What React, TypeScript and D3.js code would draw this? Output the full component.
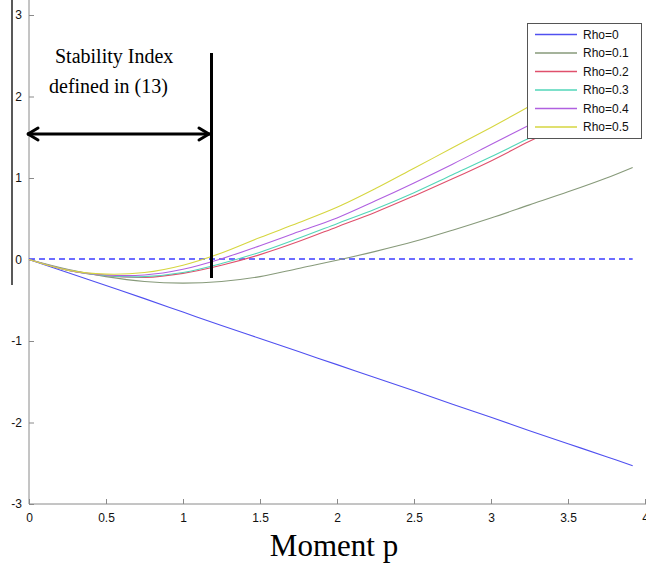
import { useEffect, useRef } from "react";
import * as d3 from "d3";

// moment p samples shared by all curves
const pValues = [0, 0.25, 0.5, 0.75, 1, 1.25, 1.5, 1.75, 2, 2.25, 2.5, 2.75, 3, 3.25, 3.5, 3.75, 3.92];

const rho0 = [0, -0.16, -0.32, -0.48, -0.645, -0.81, -0.97, -1.13, -1.29, -1.45, -1.61, -1.775, -1.935, -2.1, -2.26, -2.42, -2.53];
const rho01 = [0, -0.12, -0.21, -0.27, -0.29, -0.27, -0.21, -0.11, -0.01, 0.1, 0.22, 0.36, 0.51, 0.67, 0.83, 1.0, 1.13];
const rho02 = [0, -0.13, -0.2, -0.22, -0.17, -0.07, 0.06, 0.22, 0.4, 0.58, 0.78, 0.99, 1.21, 1.45, 1.68, 1.92, 2.08];
const rho03 = [0, -0.13, -0.2, -0.21, -0.16, -0.05, 0.09, 0.26, 0.44, 0.62, 0.82, 1.04, 1.26, 1.49, 1.72, 1.96, 2.12];
const rho04 = [0, -0.13, -0.19, -0.19, -0.12, 0.01, 0.17, 0.34, 0.51, 0.72, 0.94, 1.17, 1.41, 1.65, 1.89, 2.14, 2.31];
const rho05 = [0, -0.13, -0.18, -0.16, -0.07, 0.08, 0.27, 0.45, 0.64, 0.87, 1.12, 1.37, 1.62, 1.88, 2.14, 2.41, 2.59];

const seriesNames = ["Rho=0", "Rho=0.1", "Rho=0.2", "Rho=0.3", "Rho=0.4", "Rho=0.5"];
const seriesValues = [rho0, rho01, rho02, rho03, rho04, rho05];
const seriesColors = ["#5050f0", "#879a7a", "#e0506c", "#52d6b8", "#b060e0", "#d6d640"];

const xTicks = [0, 0.5, 1, 1.5, 2, 2.5, 3, 3.5, 4];
const yTicks = [-3, -2, -1, 0, 1, 2, 3];

const App = () => {
  const ref = useRef<SVGSVGElement | null>(null);

  useEffect(() => {
    const svg = d3.select(ref.current);
    svg.selectAll("*").remove();

    const x = d3.scaleLinear().domain([0, 4]).range([29, 645]);
    const y = d3.scaleLinear().domain([-3, 3]).range([504, 15]);
    const axisColor = "#8a8a8a";
    const sans = "'Liberation Sans', Arial, sans-serif";
    const serif = "'Liberation Serif', 'Times New Roman', serif";

    svg.append("rect").attr("width", 646).attr("height", 565).attr("fill", "white");

    // stray black rule on the far left
    svg.append("line")
      .attr("x1", 12).attr("x2", 12).attr("y1", 0).attr("y2", 285)
      .attr("stroke", "#222").attr("stroke-width", 1.5);

    // axes
    const yAxis = svg.append("g")
      .attr("transform", `translate(${x(0)},0)`)
      .call(d3.axisLeft(y).tickValues(yTicks).tickSize(-5).tickPadding(7).tickFormat((d) => String(d)));
    const xAxis = svg.append("g")
      .attr("transform", `translate(0,${y(-3)})`)
      .call(d3.axisBottom(x).tickValues(xTicks).tickSize(-5).tickPadding(9).tickFormat((d) => String(d)));
    [yAxis, xAxis].forEach((g) => {
      g.select(".domain").remove();
      g.selectAll("line").attr("stroke", axisColor);
      g.selectAll("text").attr("fill", "#111").style("font-family", sans).style("font-size", "12px");
    });
    svg.append("line")
      .attr("x1", x(0)).attr("x2", x(0)).attr("y1", 0).attr("y2", y(-3))
      .attr("stroke", axisColor);
    svg.append("line")
      .attr("x1", x(0)).attr("x2", 646).attr("y1", y(-3)).attr("y2", y(-3))
      .attr("stroke", axisColor);

    // zero reference
    svg.append("line")
      .attr("x1", x(0)).attr("x2", x(3.92)).attr("y1", 259).attr("y2", 259)
      .attr("stroke", "#3c3cff").attr("stroke-width", 1.3).attr("stroke-dasharray", "6,4");

    const line = d3.line<number>()
      .x((_, i) => x(pValues[i]))
      .y((d) => y(d))
      .curve(d3.curveCatmullRom);

    seriesValues.forEach((vals, i) => {
      svg.append("path")
        .datum(vals)
        .attr("fill", "none")
        .attr("stroke", seriesColors[i])
        .attr("stroke-width", 1.1)
        .attr("d", line);
    });

    // annotation
    svg.append("text").attr("x", 55).attr("y", 63)
      .style("font-family", serif).style("font-size", "20px").text("Stability Index");
    svg.append("text").attr("x", 49).attr("y", 93)
      .style("font-family", serif).style("font-size", "20px").text("defined in (13)");
    const ay = 134;
    const ax1 = 27, ax2 = 210;
    svg.append("line").attr("x1", ax1).attr("x2", ax2).attr("y1", ay).attr("y2", ay)
      .attr("stroke", "black").attr("stroke-width", 3);
    svg.append("path")
      .attr("d", `M${ax1 + 11},${ay - 6}L${ax1 + 1},${ay}L${ax1 + 11},${ay + 6}M${ax2 - 11},${ay - 6}L${ax2 - 1},${ay}L${ax2 - 11},${ay + 6}`)
      .attr("fill", "none").attr("stroke", "black").attr("stroke-width", 3)
      .attr("stroke-linecap", "round").attr("stroke-linejoin", "round");
    svg.append("line").attr("x1", 211.5).attr("x2", 211.5).attr("y1", 53).attr("y2", 278)
      .attr("stroke", "black").attr("stroke-width", 3);

    // legend
    const lg = svg.append("g");
    lg.append("rect").attr("x", 527.5).attr("y", 23.5).attr("width", 114).attr("height", 115)
      .attr("fill", "white").attr("stroke", "#555");
    seriesNames.forEach((name, i) => {
      const ly = 34.5 + i * 18.5;
      lg.append("line").attr("x1", 535).attr("x2", 577).attr("y1", ly).attr("y2", ly)
        .attr("stroke", seriesColors[i]).attr("stroke-width", 1.3);
      lg.append("text").attr("x", 583).attr("y", ly).attr("dy", "0.35em")
        .style("font-family", sans).style("font-size", "12px").attr("fill", "#111").text(name);
    });

    // x label
    svg.append("text").attr("x", 334).attr("y", 556).attr("text-anchor", "middle")
      .style("font-family", serif).style("font-size", "31px").text("Moment p");
  }, []);

  return (
    <svg ref={ref} width={646} height={565} style={{ position: "absolute", left: 0, top: 0 }} />
  );
};

export default App;
